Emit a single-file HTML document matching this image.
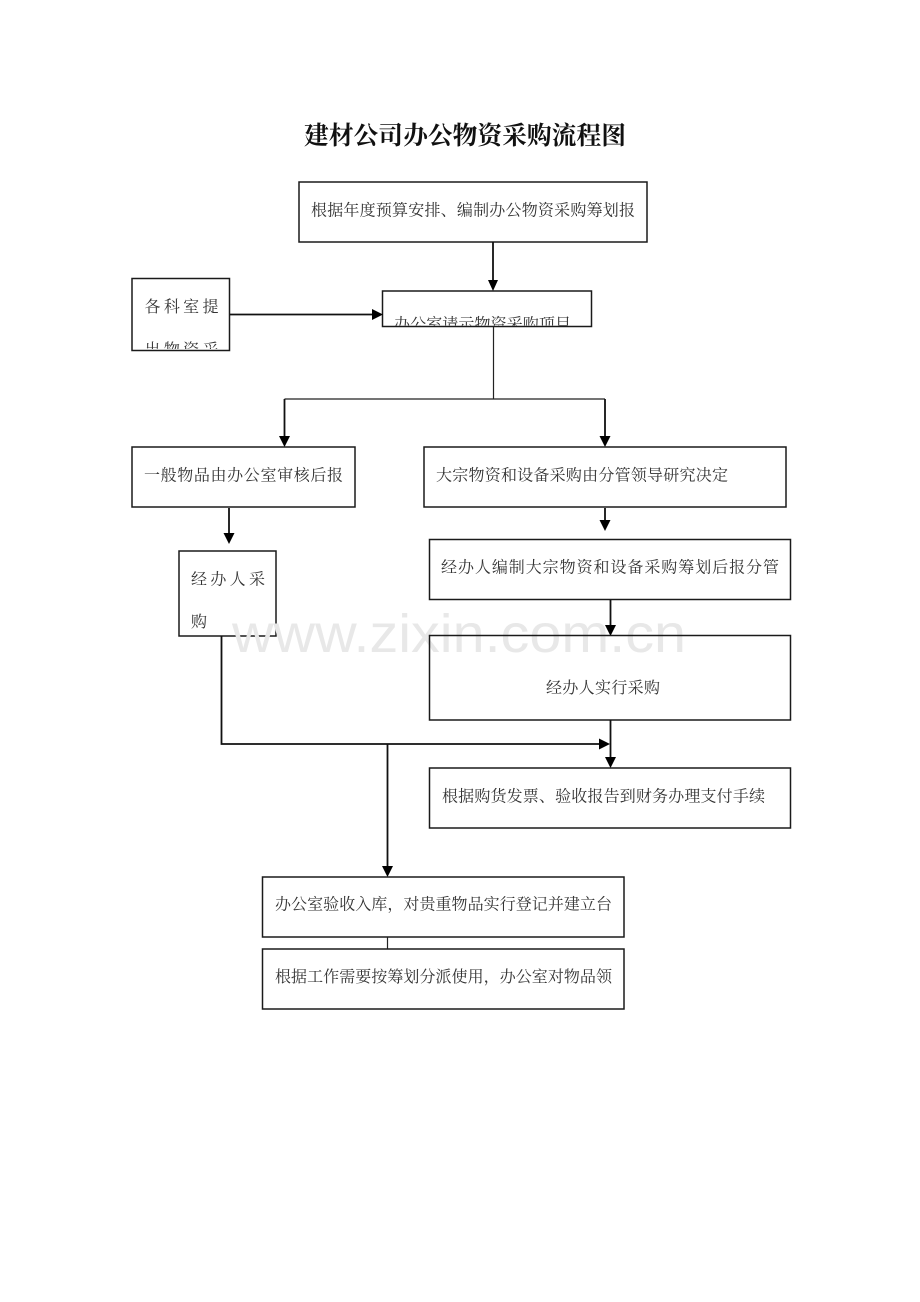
<!DOCTYPE html>
<html lang="zh"><head><meta charset="utf-8"><title>建材公司办公物资采购流程图</title>
<style>
html,body{margin:0;padding:0;background:#fff;width:920px;height:1302px;overflow:hidden}
svg{display:block}
text{font-family:"Liberation Serif","Noto Serif CJK SC",serif;font-size:16px;fill:#333}
.b{fill:#fff;stroke:#1a1a1a;stroke-width:1.5}
.l{stroke:#111;stroke-width:1.8;fill:none}
.t{stroke:#222;stroke-width:1.2;fill:none}
.a{fill:#000}
</style></head><body>
<svg width="920" height="1302" viewBox="0 0 920 1302" xmlns="http://www.w3.org/2000/svg">
<defs>
<clipPath id="c1"><rect x="383" y="292" width="207" height="33.500"/></clipPath>
<clipPath id="c2"><rect x="133" y="279" width="95" height="70"/></clipPath>
</defs>
<text x="304" y="144" textLength="322" lengthAdjust="spacingAndGlyphs" style="font-size:25px;font-weight:700;fill:#111">建材公司办公物资采购流程图</text>

<rect class="b" x="299" y="182" width="348" height="60"/>
<text x="311" y="215.500" textLength="324">根据年度预算安排、编制办公物资采购筹划报</text>

<rect class="b" x="382.500" y="291" width="209" height="35.500"/>
<text clip-path="url(#c1)" x="394" y="329.500" textLength="177">办公室请示物资采购项目</text>

<rect class="b" x="132" y="278.500" width="97.500" height="72"/>
<text x="144.500" y="312" textLength="74">各科室提</text>
<text clip-path="url(#c2)" x="144.500" y="355" textLength="74">出物资采</text>

<path class="l" d="M493 242V281"/><path class="a" d="M488 280h10l-5 11z"/>
<path class="l" d="M230 314.500H374"/><path class="a" d="M372 309v11l11-5.500z"/>
<path class="t" d="M493.500 327V399M284.500 399H605"/>
<path class="l" d="M284.500 399V438M605 399V438"/>
<path class="a" d="M279 436h11l-5.500 11zM599.500 436h11l-5.500 11z"/>

<rect class="b" x="132" y="447" width="223" height="60"/>
<text x="144" y="480.500" textLength="199">一般物品由办公室审核后报</text>

<rect class="b" x="424" y="447" width="362" height="60"/>
<text x="436" y="480.500" textLength="292">大宗物资和设备采购由分管领导研究决定</text>

<path class="l" d="M229 508V535"/><path class="a" d="M223.500 533h11l-5.500 11z"/>
<path class="l" d="M605 508V522"/><path class="a" d="M599.500 520h11l-5.500 11z"/>

<rect class="b" x="179" y="551" width="97" height="85"/>
<text x="191" y="584.500" textLength="74">经办人采</text>
<text x="191" y="627">购</text>

<rect class="b" x="429.500" y="539.500" width="361" height="60"/>
<text x="441" y="572.500" textLength="338">经办人编制大宗物资和设备采购筹划后报分管</text>

<path class="l" d="M610.500 600V627"/><path class="a" d="M605 625h11l-5.500 11z"/>

<text x="232" y="652" textLength="454" lengthAdjust="spacingAndGlyphs" style="font-family:'Liberation Sans',sans-serif;font-size:54px;fill:#e8e8e8">www.zixin.com.cn</text>

<rect class="b" x="429.500" y="635.500" width="361" height="84.500" style="fill:none"/>
<text x="546" y="693" textLength="114">经办人实行采购</text>

<path class="l" d="M221.500 636V744H601"/><path class="a" d="M599 738.500v11l11-5.500z"/>
<path class="l" d="M610.500 720V759"/><path class="a" d="M605 757h11l-5.500 11z"/>
<path class="l" d="M387.500 744V868"/><path class="a" d="M382 866h11l-5.500 11z"/>

<rect class="b" x="429.500" y="768" width="361" height="60"/>
<text x="442" y="801.500" textLength="323">根据购货发票、验收报告到财务办理支付手续</text>

<rect class="b" x="262.500" y="877" width="361.500" height="60"/>
<text x="275" y="909.500" textLength="337">办公室验收入库，对贵重物品实行登记并建立台</text>

<path class="t" d="M387.500 937V949"/>

<rect class="b" x="262.500" y="949" width="361.500" height="60"/>
<text x="275" y="982" textLength="337">根据工作需要按筹划分派使用，办公室对物品领</text>
</svg>
</body></html>
